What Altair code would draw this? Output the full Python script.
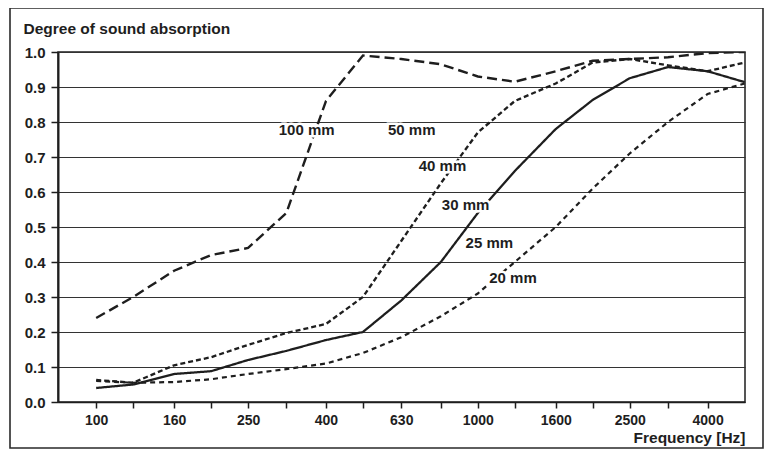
import altair as alt
import pandas as pd

freqs = [100, 125, 160, 200, 250, 315, 400, 500, 630, 800, 1000, 1250, 1600, 2000, 2500, 3150, 4000, 5000]
s100 = [0.24, 0.30, 0.375, 0.42, 0.44, 0.54, 0.86, 0.99, 0.98, 0.965, 0.93, 0.915, 0.945, 0.975, 0.98, 0.985, 0.997, 1.0]
s40 = [0.063, 0.055, 0.105, 0.128, 0.163, 0.197, 0.223, 0.30, 0.46, 0.625, 0.77, 0.86, 0.91, 0.97, 0.98, 0.962, 0.945, 0.97]
s30 = [0.04, 0.05, 0.08, 0.088, 0.12, 0.146, 0.177, 0.20, 0.29, 0.40, 0.54, 0.66, 0.78, 0.863, 0.925, 0.957, 0.945, 0.914]
s20 = [0.06, 0.055, 0.057, 0.065, 0.08, 0.094, 0.11, 0.14, 0.185, 0.245, 0.31, 0.40, 0.50, 0.61, 0.71, 0.80, 0.88, 0.91]

label_text = ["100 mm", "50 mm", "40 mm", "30 mm", "25 mm", "20 mm"]
label_freq = [356, 671, 808, 929, 1072, 1236]
label_val = [0.777, 0.777, 0.674, 0.563, 0.454, 0.354]

tick_freqs = [100, 125, 160, 200, 250, 315, 400, 500, 630, 800, 1000, 1250, 1600, 2000, 2500, 3150, 4000]
shown = [100, 160, 250, 400, 630, 1000, 1600, 2500, 4000]
y_ticks = [round(i * 0.1, 1) for i in range(11)]

series_names = ["100 mm", "40 mm", "30 mm", "20 mm"]
series_vals = [s100, s40, s30, s20]
rows = []
for name, vals in zip(series_names, series_vals):
    for f, v in zip(freqs, vals):
        rows.append({"series": name, "freq": f, "value": v})
df = pd.DataFrame(rows)
labels_df = pd.DataFrame({"text": label_text, "freq": label_freq, "value": label_val})

FONT = "Liberation Sans"
INK = "#1e1e1e"

xscale = alt.Scale(type="log", domain=[79.43, 5011.9], nice=False)
yscale = alt.Scale(domain=[0, 1], nice=False)

shown_str = ",".join(str(s) for s in shown)

xaxis = alt.Axis(
    values=tick_freqs,
    labelExpr=f"indexof([{shown_str}], datum.value) >= 0 ? format(datum.value, 'd') : ''",
    title="Frequency [Hz]", titleAnchor="end", titleAlign="right",
    titleFont=FONT, titleFontSize=15.5, titleFontWeight="bold", titleColor=INK,
    titleX=687, titleY=35, titleBaseline="middle",
    labelFont=FONT, labelFontSize=14, labelFontWeight="bold", labelColor=INK,
    labelPadding=5, tickSize=6, tickColor=INK, tickWidth=1.5,
    domainColor=INK, domainWidth=1.5, grid=False, labelFlush=False,
    labelOverlap=False,
)
yaxis = alt.Axis(
    values=y_ticks, format=".1f", labelOverlap=False,
    title="Degree of sound absorption", titleAngle=0, titleAlign="left",
    titleBaseline="middle", titleX=-35, titleY=-24,
    titleFont=FONT, titleFontSize=15.5, titleFontWeight="bold", titleColor=INK,
    labelFont=FONT, labelFontSize=15, labelFontWeight="bold", labelColor=INK,
    labelPadding=6, tickSize=7, tickColor=INK, tickWidth=1.5,
    domainColor=INK, domainWidth=2, grid=True, gridColor="#333333", gridWidth=1.2,
)

lines = alt.Chart(df).mark_line(color=INK, clip=True).encode(
    x=alt.X("freq:Q", scale=xscale, axis=xaxis),
    y=alt.Y("value:Q", scale=yscale, axis=yaxis),
    strokeDash=alt.StrokeDash("series:N", scale=alt.Scale(
        domain=series_names, range=[[10, 5], [5, 3], [1, 0], [5, 4]]), legend=None),
    strokeWidth=alt.StrokeWidth("series:N", scale=alt.Scale(
        domain=series_names, range=[2.4, 2.2, 1.8, 2.2]), legend=None),
    detail="series:N",
)

halo = alt.Chart(labels_df).mark_text(
    font=FONT, fontSize=15, fontWeight="bold", color="white", stroke="white",
    strokeWidth=5, align="center", baseline="middle"
).encode(
    x=alt.X("freq:Q", scale=xscale, axis=xaxis),
    y=alt.Y("value:Q", scale=yscale, axis=yaxis),
    text="text:N",
)

texts = alt.Chart(labels_df).mark_text(
    font=FONT, fontSize=15, fontWeight="bold", color=INK, align="center", baseline="middle"
).encode(
    x=alt.X("freq:Q", scale=xscale, axis=xaxis),
    y=alt.Y("value:Q", scale=yscale, axis=yaxis),
    text="text:N",
)

frame = alt.Chart(pd.DataFrame({"a": [0]})).mark_rect(
    fill=None, stroke="#2a2a2a", strokeWidth=1.6
).encode(
    x=alt.value(-48), x2=alt.value(705), y=alt.value(-44), y2=alt.value(396)
)

chart = alt.layer(frame, lines, halo, texts).properties(
    width=687, height=350,
    autosize=alt.AutoSizeParams(type="none"),
    padding={"left": 50, "top": 44, "right": 19, "bottom": 47},
    background="white",
).configure_view(stroke=INK, strokeWidth=1.5)

chart.save("out.html", embed_options={"renderer": "svg", "actions": False})
